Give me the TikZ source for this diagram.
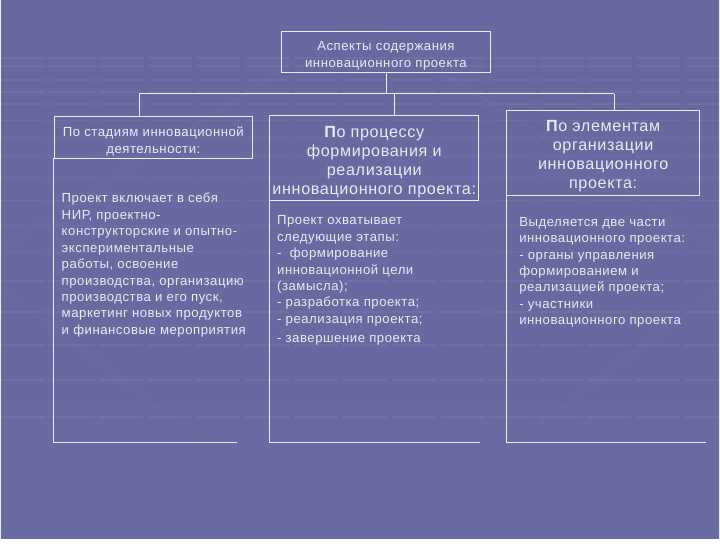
\documentclass[tikz,border=0pt]{standalone}
\usepackage{fontspec}
\setmainfont{Liberation Sans}[LetterSpace=4]
\usetikzlibrary{positioning}
\newcommand{\MYBODY}{\fontsize{13.2}{16.5}\selectfont}
\newcommand{\MYHEAD}{\fontsize{16.2}{19}\selectfont}
\newcommand{\MYLIFT}[1]{\rule{0pt}{#1}}% pushes the first line of a head down
\definecolor{bgtop}{RGB}{104,104,160}
\definecolor{bgmid}{RGB}{86,86,138}
\definecolor{bgbot}{RGB}{106,106,162}
\definecolor{linecol}{RGB}{236,236,248}
\definecolor{textcol}{RGB}{234,234,242}

\begin{document}
\begin{tikzpicture}[x=1pt,y=-1pt,
    box/.style={draw=linecol,line width=0.8pt,inner sep=0pt,align=center,text=textcol},
    body/.style={anchor=north west,inner sep=0pt,align=left,text=textcol,font=\MYBODY},
    tie/.style={draw=linecol,line width=0.8pt}]

    % the slide behind the scheme
    \shade[top color=bgtop,middle color=bgmid,bottom color=bgbot] (0,0) rectangle (720,540);
    \foreach \y in {58,66,80,92,104,121,138,157,178,201,226,253,282,313,346,381,418}{% faint floor stripes
      \draw[white,opacity=0.05,line width=1.6pt,dash pattern=on 44pt off 5pt] (0,\y) -- (720,\y);
    }
    \foreach \a/\b in {0/250,720/250}{% faint perspective rays
      \draw[white,opacity=0.025,line width=2pt] (\a,\b) -- (360,20) (\a,\b+40) -- (360,560);
    }
    \useasboundingbox (0,0) rectangle (720,540);

    \node[box,minimum width=210pt,minimum height=42pt,font=\MYBODY](aspects) at (386,52) {\MYLIFT{17.5pt}Аспекты содержания\\инновационного проекта};

    \node[box,minimum width=199.5pt,minimum height=42pt,font=\MYBODY](stages) at (152.8,137.5) {\MYLIFT{18pt}По стадиям инновационной\\деятельности:};
    \node[box,minimum width=209.5pt,minimum height=85pt,font=\MYHEAD](process) at (374.3,158.5) {\MYLIFT{19pt}\textbf{П}о процессу\\формирования и\\реализации\\инновационного проекта:};
    \node[box,minimum width=193.6pt,minimum height=85pt,font=\MYHEAD](elements) at (603.8,153.5) {\MYLIFT{17pt}\textbf{П}о элементам\\организации\\инновационного\\проекта:};

    % tree from the top box to the three heads
    \coordinate (barL) at (138.7,94);
    \coordinate (barM) at (394,94);
    \coordinate (barR) at (615,94);
    \draw[tie] (aspects.south) -- (aspects.south |- barL);
    \draw[tie] (barL) -- (barR);
    \draw[tie] (barL) -- (barL |- stages.north);
    \draw[tie] (barM) -- (barM |- process.north);
    \draw[tie] (barR) -- (barR |- elements.north);

    % open frames under the heads
    \coordinate (endL) at (237,444);
    \coordinate (endM) at (480,444);
    \coordinate (endR) at (707,444);
    \draw[tie] (stages.south west) -- (stages.south west |- endL) -- (endL);
    \draw[tie] (process.south west) -- (process.south west |- endM) -- (endM);
    \draw[tie] (elements.south west) -- (elements.south west |- endR) -- (endR);

    \node[body](stagestext) at (60.7,193.5) {Проект включает в себя\\НИР, проектно-\\конструкторские и опытно-\\экспериментальные\\работы, освоение\\производства, организацию\\производства и его пуск,\\маркетинг новых продуктов\\и финансовые мероприятия};
    \node[body](processtext) at (276.7,216) {Проект охватывает\\следующие этапы:\\-\ \ формирование\\инновационной цели\\(замысла);\\- разработка проекта;\\- реализация проекта;\\[3pt]- завершение проекта};
    \node[body](elementstext) at (519.5,217.5) {Выделяется две части\\инновационного проекта:\\- органы управления\\формированием и\\реализацией проекта;\\- участники\\инновационного проекта};

\end{tikzpicture}
\end{document}
